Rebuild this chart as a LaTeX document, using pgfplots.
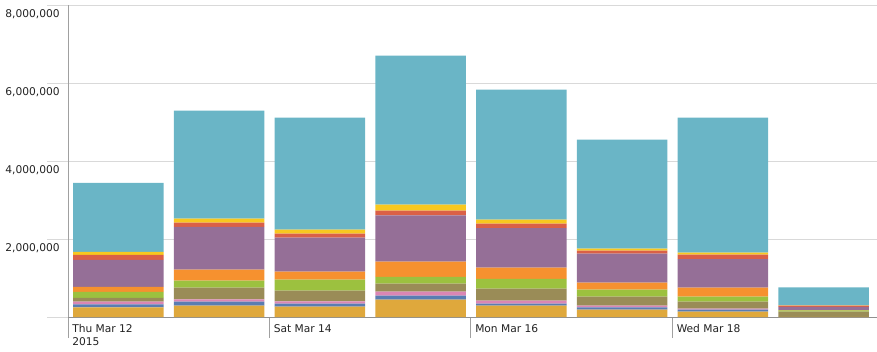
\documentclass[border=0pt]{standalone}
\usepackage{pgfplots}
\pgfplotsset{compat=1.18}
\usepackage{pgfplotstable}
\usepackage{fontspec}
\setmainfont{DejaVu Sans}
\newlength\px \setlength\px{0.75pt}
\definecolor{cgold}{HTML}{DFA83C}
\definecolor{cblue}{HTML}{5A7DB2}
\definecolor{cpink}{HTML}{DB86B4}
\definecolor{colive}{HTML}{9A8C57}
\definecolor{cgreen}{HTML}{9CC13F}
\definecolor{corange}{HTML}{F6912F}
\definecolor{cpurple}{HTML}{956F97}
\definecolor{cred}{HTML}{DA6047}
\definecolor{cyellow}{HTML}{F8C81F}
\definecolor{cteal}{HTML}{6AB5C6}
\definecolor{gridgray}{HTML}{D9D9D9}
\definecolor{axisgray}{HTML}{A0A0A0}
\definecolor{txt}{HTML}{222222}
\pgfplotstableread{
x   gold   blue   pink   olive  green  orange purple  red    yellow teal
0.5 246000 80000  70000  95000  154000 130000 690000  130000 77000  1770000
1.5 290000 102000 59000  300000 180000 282000 1095000 110000 103000 2769000
2.5 264000 77000  59000  274000 282000 206000 871000  103000 102000 2872000
3.5 444000 102000 103000 205000 172000 392000 1187000 121000 153000 3821000
4.5 290000 51000  77000  308000 251000 287000 1018000 110000 103000 3333000
5.5 187000 59000  44000  231000 179000 179000 744000  77000  51000  2795000
6.5 136000 51000  26000  179000 129000 230000 736000  110000 52000  3461000
7.5 3000   0      0      133000 33000  5000   87000   34000  5000   461000
}\data
\begin{document}
\begin{tikzpicture}
\useasboundingbox (0,0) rectangle (877\px,351\px);
\begin{axis}[
  at={(68\px,34\px)}, anchor=south west,
  scale only axis, width=809\px, height=312\px,
  xmin=0, xmax=8.03, ymin=0, ymax=8000000,
  enlargelimits=false,
  scaled y ticks=false,
  ybar stacked, bar width=0.9,
  axis x line*=bottom, axis y line*=left,
  axis line style={draw=axisgray, line width=1\px},
  x axis line style={draw=axisgray!90!black},
  tick align=outside,
  major tick length=21\px,
  ymajorgrids,
  grid style={draw=gridgray, line width=1\px},
  ytick={0,2000000,4000000,6000000,8000000},
  yticklabels={{},{2,000,000},{4,000,000},{6,000,000},{8,000,000}},
  ytick style={draw=gridgray, line width=1\px},
  xtick={0,2,4,6},
  xticklabels={{Thu Mar 12\\2015},{Sat Mar 14},{Mon Mar 16},{Wed Mar 18}},
  xtick style={draw=axisgray, line width=1\px},
  ticklabel style={font=\fontsize{8}{9.75}\selectfont, text=txt, inner sep=0pt},
  yticklabel style={anchor=east, xshift=13\px, yshift=-9\px},
  xticklabel style={anchor=north west, align=left, xshift=4\px, yshift=14\px},
  /pgf/number format/assume math mode=true,
  every axis plot/.append style={draw=none},
]
\addplot[fill=cgold] table[x=x,y=gold]{\data};
\addplot[fill=cblue] table[x=x,y=blue]{\data};
\addplot[fill=cpink] table[x=x,y=pink]{\data};
\addplot[fill=colive] table[x=x,y=olive]{\data};
\addplot[fill=cgreen] table[x=x,y=green]{\data};
\addplot[fill=corange] table[x=x,y=orange]{\data};
\addplot[fill=cpurple] table[x=x,y=purple]{\data};
\addplot[fill=cred] table[x=x,y=red]{\data};
\addplot[fill=cyellow] table[x=x,y=yellow]{\data};
\addplot[fill=cteal] table[x=x,y=teal]{\data};
\end{axis}
\end{tikzpicture}
\end{document}
